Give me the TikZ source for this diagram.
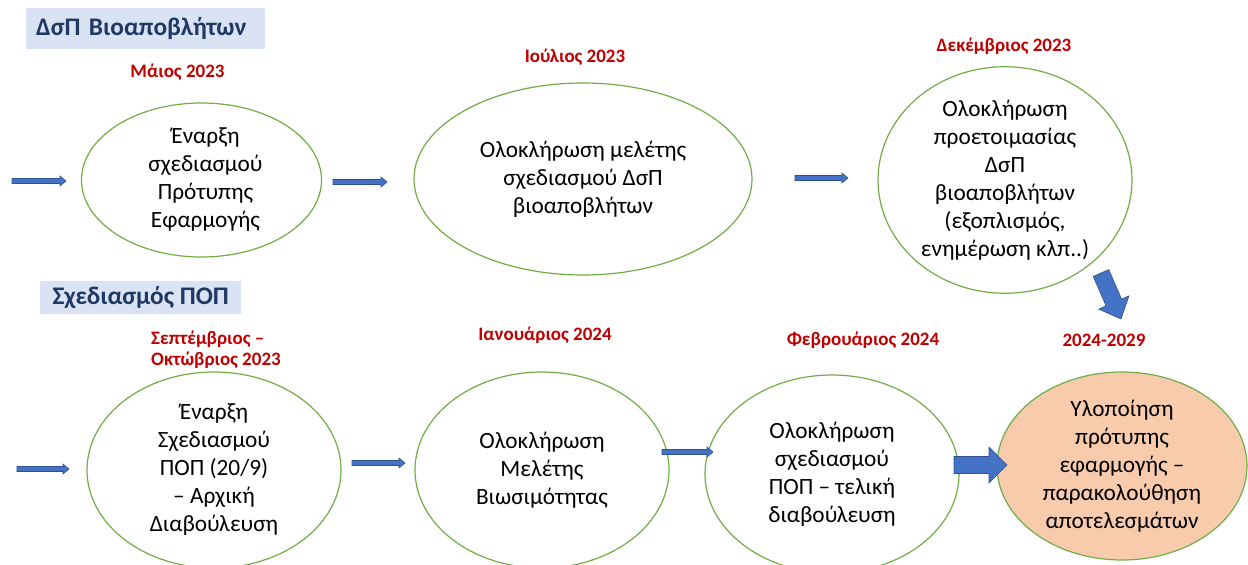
\documentclass[tikz,border=0pt]{standalone}
\usepackage{fontspec}
\setmainfont{Carlito}
\usetikzlibrary{calc,shapes.geometric}
\definecolor{egreen}{HTML}{70AD47}
\definecolor{dred}{HTML}{C00000}
\definecolor{tnavy}{HTML}{1F3864}
\definecolor{tblue}{HTML}{DAE3F3}
\definecolor{afill}{HTML}{4472C4}
\definecolor{aline}{HTML}{2F528F}
\definecolor{peach}{HTML}{F8CBAD}
\newcommand{\blockarr}[5]{%
  \path ($(#2)!#5!(#1)$) coordinate (hb);
  \draw[arrowsty] ($(#1)!#3!90:(#2)$) -- ($(hb)!#3!90:(#2)$) -- ($(hb)!#4!90:(#2)$) -- (#2)
    -- ($(hb)!#4!-90:(#2)$) -- ($(hb)!#3!-90:(#2)$) -- ($(#1)!#3!-90:(#2)$) -- cycle;
}
\begin{document}
\begin{tikzpicture}[x=1pt,y=-1pt,
  ell/.style={ellipse, draw=egreen, line width=1.2pt, inner sep=0pt, align=center,
    font=\fontsize{23.3}{28}\selectfont},
  datelbl/.style={text=dred, inner sep=0pt, font=\bfseries\fontsize{19}{21}\selectfont},
  ttl/.style={fill=tblue, text=tnavy, anchor=north west, inner ysep=0pt,
    font=\bfseries\fontsize{25.3}{28}\selectfont},
  arrowsty/.style={fill=afill, draw=aline, line width=0.6pt, line join=miter}]
\useasboundingbox (0,0) rectangle (1248,565);
\clip (0,0) rectangle (1248,565);

% titles
\node[ttl, align=left, inner xsep=10pt, text width=219pt, minimum height=41pt] (t1) at (26,8) {ΔσΠ Βιοαποβλήτων};
\node[ttl, inner xsep=0pt, minimum width=201pt, minimum height=33pt] (t2) at (40,281) {Σχεδιασμός ΠΟΠ};

% dates
\node[datelbl] (d1) at (177.5,72) {Μάιος 2023};
\node[datelbl] (d2) at (575,57) {Ιούλιος 2023};
\node[datelbl] (d3) at (1004,46) {Δεκέμβριος 2023};
\node[datelbl, anchor=west, align=left] (d4) at (151,350) {Σεπτέμβριος –\\Οκτώβριος 2023};
\node[datelbl] (d5) at (545,335) {Ιανουάριος 2024};
\node[datelbl] (d6) at (863,340) {Φεβρουάριος 2024};
\node[datelbl] (d7) at (1104,340) {2024-2029};

% ellipses top
\node[ell, minimum width=240pt, minimum height=154pt] (e1) at (201.5,180) {\hspace*{8pt}Έναρξη\\\hspace*{8pt}σχεδιασμού\\\hspace*{8pt}Πρότυπης\\\hspace*{8pt}Εφαρμογής};
\node[ell, minimum width=338pt, minimum height=192pt] (e2) at (583,179) {Ολοκλήρωση μελέτης\\σχεδιασμού ΔσΠ\\βιοαποβλήτων};
\node[ell, minimum width=254pt, minimum height=198pt] (e3) at (1005,180) {Ολοκλήρωση\\προετοιμασίας\\ΔσΠ\\βιοαποβλήτων\\(εξοπλισμός,\\ενημέρωση κλπ..)};

% ellipses bottom
\node[ell, minimum width=254pt, minimum height=196pt] (b1) at (214,470) {Έναρξη\\Σχεδιασμού\\ΠΟΠ (20/9)\\– Αρχική\\Διαβούλευση};
\node[ell, minimum width=254pt, minimum height=196pt] (b2) at (542,470) {Ολοκλήρωση\\Μελέτης\\Βιωσιμότητας};
\node[ell, minimum width=254pt, minimum height=198pt] (b3) at (832,474) {Ολοκλήρωση\\σχεδιασμού\\ΠΟΠ – τελική\\διαβούλευση};
\node[ell, fill=peach, minimum width=250pt, minimum height=188pt] (b4) at (1122,466) {Υλοποίηση\\πρότυπης\\εφαρμογής –\\παρακολούθηση\\αποτελεσμάτων};

% arrow end points
\coordinate (a1s) at (12,181);   \coordinate (a1e) at (66,181);
\coordinate (a2s) at (333,182);  \coordinate (a2e) at (387,182);
\coordinate (a3s) at (795,178);  \coordinate (a3e) at (848,178);
\coordinate (c1s) at (17,469);   \coordinate (c1e) at (69,469);
\coordinate (c2s) at (352,463);  \coordinate (c2e) at (405,463);
\coordinate (c3s) at (662,452);  \coordinate (c3e) at (713,452);
\coordinate (g1s) at (954,465);  \coordinate (g1e) at (1007,465);
\coordinate (g2s) at (1101,273); \coordinate (g2e) at (1121,319);

\blockarr{a1s}{a1e}{2.5pt}{5pt}{6pt}
\blockarr{a2s}{a2e}{2.5pt}{5pt}{6pt}
\blockarr{a3s}{a3e}{2.5pt}{5pt}{6pt}
\blockarr{c1s}{c1e}{2.5pt}{5pt}{6pt}
\blockarr{c2s}{c2e}{2.5pt}{5pt}{6pt}
\blockarr{c3s}{c3e}{2.5pt}{5pt}{6pt}
\blockarr{g1s}{g1e}{8.5pt}{18pt}{18pt}
\blockarr{g2s}{g2e}{8.5pt}{16.5pt}{18pt}
\end{tikzpicture}
\end{document}
